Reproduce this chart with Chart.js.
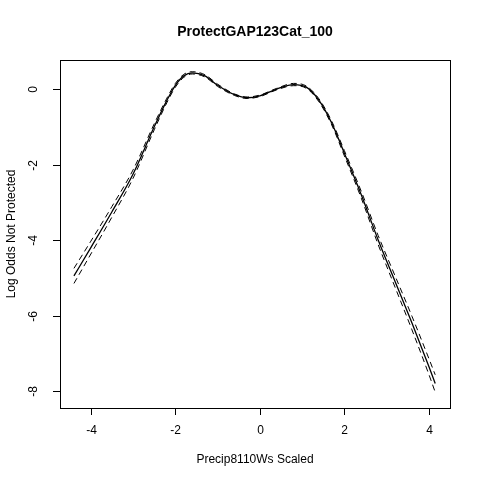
<!DOCTYPE html>
<html>
<head>
<meta charset="utf-8">
<script src="https://cdn.jsdelivr.net/npm/chart.js@4"></script>
<style>
  html, body { margin: 0; padding: 0; background: #fff; }
  #wrap { width: 480px; height: 480px; }
</style>
</head>
<body>
<div id="wrap"><canvas id="c" width="480" height="480"></canvas></div>
<script>
"use strict";

// data
var xs    = [-4.4, -4, -3.5, -3, -2.5, -2.2, -2, -1.8, -1.6, -1.3, -1, -0.6, -0.3, 0, 0.4, 0.8, 1.1, 1.4, 1.7, 2, 2.4, 2.8, 3.2, 3.6, 4, 4.15];
var fit   = [-4.95, -4.2, -3.25, -2.25, -1.0, -0.3, 0.1, 0.35, 0.43, 0.35, 0.1, -0.15, -0.23, -0.18, 0.0, 0.12, 0.05, -0.3, -0.9, -1.7, -2.8, -4.0, -5.1, -6.2, -7.35, -7.8];
var upper = [-4.75, -4.03, -3.11, -2.14, -0.92, -0.24, 0.15, 0.39, 0.46, 0.38, 0.13, -0.13, -0.21, -0.16, 0.02, 0.15, 0.08, -0.26, -0.85, -1.63, -2.71, -3.88, -4.95, -6.02, -7.14, -7.57];
var lower = [-5.15, -4.37, -3.39, -2.36, -1.08, -0.36, 0.05, 0.31, 0.4, 0.32, 0.07, -0.17, -0.25, -0.2, -0.02, 0.09, 0.02, -0.34, -0.95, -1.77, -2.89, -4.12, -5.25, -6.38, -7.56, -8.03];
var xTicks = [-4, -2, 0, 2, 4];
var yTicks = [0, -2, -4, -6, -8];
var title = "ProtectGAP123Cat_100";
var xTitle = "Precip8110Ws Scaled";
var yTitle = "Log Odds Not Protected";

var pts = function(ys) {
  var r = [];
  for (var i = 0; i < xs.length; i++) r.push({x: xs[i], y: ys[i]});
  return r;
};

var FONT = "'Liberation Sans', Arial, sans-serif";

// R-style frame, ticks labels, titles
var rFrame = {
  id: "rFrame",
  afterDraw: function(chart) {
    var ctx = chart.ctx, a = chart.chartArea;
    var sx = chart.scales.x, sy = chart.scales.y;
    ctx.save();
    ctx.strokeStyle = "#000";
    ctx.lineWidth = 1;
    ctx.strokeRect(a.left + 0.5, a.top + 0.5, a.right - a.left, a.bottom - a.top);
    ctx.fillStyle = "#000";
    ctx.font = "12px " + FONT;
    // x ticks
    ctx.textAlign = "center"; ctx.textBaseline = "top";
    xTicks.forEach(function(v) {
      var p = Math.round(sx.getPixelForValue(v)) + 0.5;
      ctx.beginPath(); ctx.moveTo(p, a.bottom); ctx.lineTo(p, a.bottom + 7); ctx.stroke();
      ctx.fillText(String(v), p, a.bottom + 17);
    });
    // y ticks, rotated labels
    yTicks.forEach(function(v) {
      var p = Math.round(sy.getPixelForValue(v)) + 0.5;
      ctx.beginPath(); ctx.moveTo(a.left, p); ctx.lineTo(a.left - 7, p); ctx.stroke();
      ctx.save();
      ctx.translate(a.left - 26, p);
      ctx.rotate(-Math.PI / 2);
      ctx.textAlign = "center"; ctx.textBaseline = "middle";
      ctx.fillText(String(v), 0, 0);
      ctx.restore();
    });
    // titles
    ctx.textAlign = "center"; ctx.textBaseline = "middle";
    ctx.fillText(xTitle, (a.left + a.right) / 2, 460);
    ctx.save();
    ctx.translate(12, (a.top + a.bottom) / 2);
    ctx.rotate(-Math.PI / 2);
    ctx.fillText(yTitle, 0, 0);
    ctx.restore();
    ctx.font = "bold 14px " + FONT;
    ctx.fillText(title, (a.left + a.right) / 2, 32);
    ctx.restore();
  }
};

new Chart(document.getElementById("c"), {
  type: "line",
  data: {
    datasets: [
      { data: pts(fit), borderColor: "#000", borderWidth: 1.3, pointRadius: 0, cubicInterpolationMode: "monotone" },
      { data: pts(upper), borderColor: "#000", borderWidth: 1, borderDash: [6, 4], pointRadius: 0, cubicInterpolationMode: "monotone" },
      { data: pts(lower), borderColor: "#000", borderWidth: 1, borderDash: [6, 4], pointRadius: 0, cubicInterpolationMode: "monotone" }
    ]
  },
  options: {
    responsive: false,
    animation: false,
    layout: { padding: { top: 60, right: 30, left: 0, bottom: 0 } },
    plugins: { legend: { display: false }, tooltip: { enabled: false } },
    scales: {
      x: {
        type: "linear", min: -4.73, max: 4.5,
        grid: { display: false }, border: { display: false },
        ticks: { display: false },
        afterFit: function(s) { s.height = 72; }
      },
      y: {
        type: "linear", min: -8.45, max: 0.77,
        grid: { display: false }, border: { display: false },
        ticks: { display: false },
        afterFit: function(s) { s.width = 60; }
      }
    }
  },
  plugins: [rFrame]
});
</script>
</body>
</html>
